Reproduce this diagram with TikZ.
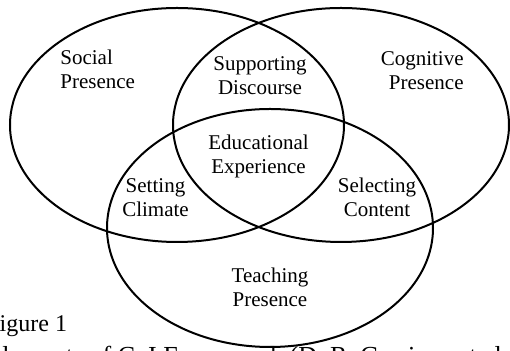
\documentclass[tikz,border=0pt]{standalone}
\usepackage{fontspec}
\setmainfont{Liberation Serif}
\begin{document}
\begin{tikzpicture}[x=0.5pt,y=-0.5pt,
  venn/.style={draw=black,line width=1pt},
  lbl/.style={inner sep=0pt,font=\fontsize{10.5}{12}\selectfont},
  captxt/.style={inner sep=0pt,anchor=base west}]
\useasboundingbox[fill=white] (0,0) rectangle (510,351);
% circles
\draw[venn] (177,125) ellipse [x radius=83.5pt, y radius=58.5pt];
\draw[venn] (341,125) ellipse [x radius=84pt, y radius=58.5pt];
\draw[venn] (270,228) ellipse [x radius=81.5pt, y radius=59.5pt];
% labels
\node[lbl,anchor=base west,align=left] (social) at (60,89) {Social\\Presence};
\node[lbl,anchor=base east,align=right] (cognitive) at (464,90) {Cognitive\\Presence};
\node[lbl,anchor=base,align=center] (supporting) at (260,95) {Supporting\\Discourse};
\node[lbl,anchor=base,align=center] (educational) at (258.5,174) {Educational\\Experience};
\node[lbl,anchor=base,align=center] (setting) at (155.5,217) {Setting\\Climate};
\node[lbl,anchor=base,align=center] (selecting) at (377,217) {Selecting\\Content};
\node[lbl,anchor=base,align=center] (teaching) at (270,307) {Teaching\\Presence};
% caption
\node[captxt,font=\fontsize{12}{14}\selectfont] (fig) at (-14,332) {Figure 1};
\node[captxt,font=\fontsize{13}{15}\selectfont] (title) at (-14,365) {Elements of CoI Framework (D. R. Garrison et al};
\end{tikzpicture}
\end{document}
